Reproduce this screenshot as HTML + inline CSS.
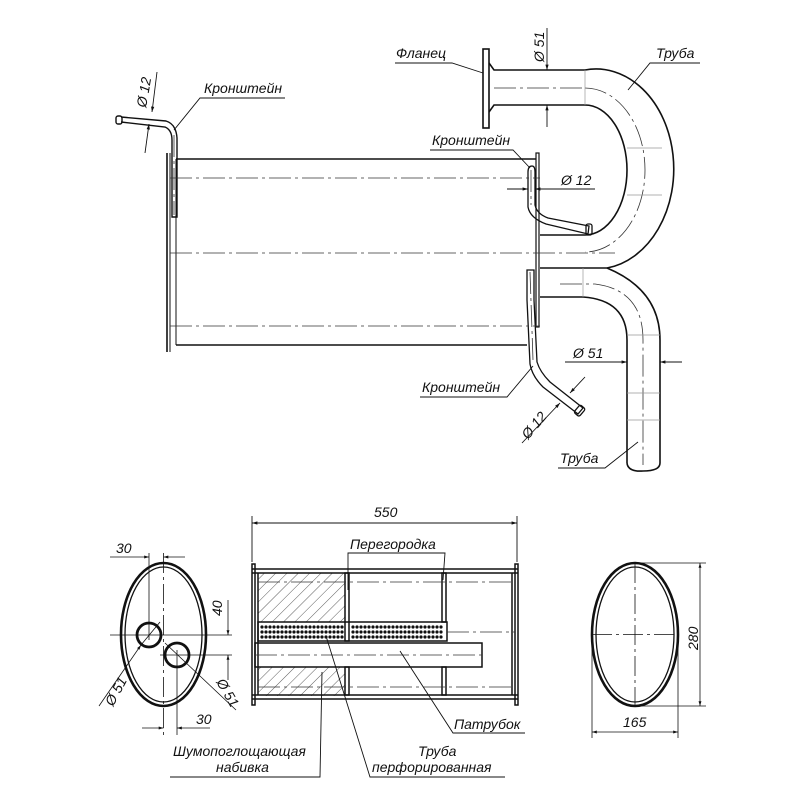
<!DOCTYPE html>
<html><head><meta charset="utf-8"><style>
html,body{margin:0;padding:0;background:#fff}
svg{display:block}
text{font-family:"Liberation Sans",sans-serif;font-style:italic;font-size:14px;fill:#111}
</style></head><body>
<svg width="800" height="800" viewBox="0 0 800 800" xmlns="http://www.w3.org/2000/svg">
<defs>
<marker id="a" viewBox="0 0 10 10" refX="10" refY="5" markerWidth="8" markerHeight="6" orient="auto-start-reverse"><path d="M0,2 L10,5 L0,8 z" fill="#111"/></marker>
<pattern id="h" width="8" height="8" patternUnits="userSpaceOnUse" patternTransform="rotate(45)"><line x1="0" y1="0" x2="0" y2="8" stroke="#333" stroke-width="0.8"/></pattern>
</defs>
<g fill="none" stroke="#111" stroke-width="1.6">
<line x1="176" y1="159" x2="536" y2="159"/>
<line x1="176" y1="345" x2="527" y2="345"/>
<line x1="167" y1="153" x2="167" y2="352"/>
<line x1="170" y1="153" x2="170" y2="352" stroke-width="1"/>
<line x1="176" y1="159" x2="176" y2="345" stroke-width="1"/>
<rect x="536" y="153" width="3" height="174" stroke-width="1.2"/>
<path d="M121,122 L165,127 Q172,130 172,140 L172,217 L177,217 L177,138 Q176,124 166,121 L121,117" stroke-width="1.4"/>
<rect x="116" y="116" width="6" height="8" rx="2" stroke-width="1.4"/>
<rect x="483" y="49" width="6" height="79"/>
<path d="M489,63 L494,70 L585,70 A77,99 0 0 1 607,268"/>
<path d="M489,112 L494,105 L585,105 A42,65 0 0 1 585,235 L540,235"/>
<line x1="540" y1="268" x2="607" y2="268"/>
<path d="M607,268 Q660,290 660,340 L660,463"/>
<path d="M540,297 L583,297 Q627,300 627,340 L627,463"/>
<path d="M627,463 Q628,472 643,471 Q660,471 660,463"/>
<path d="M528,172 Q528,166 532,166 Q535,166 535,172 L535,205 Q537,214 548,218 L589,226 L588,234 L546,224 Q530,218 528,207 Z" stroke-width="1.3"/>
<rect x="586" y="224" width="6" height="11" rx="2" stroke-width="1.3"/>
<path d="M527,270 L534,270 L534,300 L537,362 Q540,372 550,382 L583,408 L578,414 L543,387 Q532,376 530,364 L527,300 Z" stroke-width="1.3"/>
<rect x="576" y="406" width="7" height="10" rx="2" transform="rotate(40 580 411)" stroke-width="1.3"/>
</g>
<g fill="none" stroke="#333" stroke-width="0.8" stroke-dasharray="22,4,3,4">
<line x1="170" y1="178" x2="540" y2="178"/>
<line x1="170" y1="253" x2="615" y2="253"/>
<line x1="170" y1="326" x2="540" y2="326"/>
<line x1="494" y1="88" x2="585" y2="88"/>
<path d="M585,88 A60,82 0 0 1 585,252"/>
<path d="M560,284 L595,284 Q643,290 643,340 L643,465"/>
<line x1="174" y1="135" x2="174" y2="215"/>
<line x1="531" y1="170" x2="531" y2="205"/>
<line x1="530" y1="272" x2="533" y2="360"/>
</g>
<g fill="none" stroke="#999" stroke-width="0.7">
<line x1="585" y1="70" x2="585" y2="105"/><line x1="627" y1="148" x2="662" y2="148"/><line x1="627" y1="195" x2="662" y2="195"/>
<line x1="583" y1="268" x2="583" y2="297"/><line x1="627" y1="335" x2="660" y2="335"/><line x1="627" y1="393" x2="660" y2="393"/><line x1="627" y1="420" x2="660" y2="420"/>
</g>
<g fill="none" stroke="#111" stroke-width="0.9">
<line x1="547" y1="28" x2="547" y2="70" marker-end="url(#a)"/>
<line x1="547" y1="127" x2="547" y2="105" marker-end="url(#a)"/>
<line x1="507" y1="189" x2="528" y2="189" marker-end="url(#a)"/>
<line x1="595" y1="189" x2="535" y2="189" marker-end="url(#a)"/>
<line x1="565" y1="362" x2="627" y2="362" marker-end="url(#a)"/>
<line x1="682" y1="362" x2="660" y2="362" marker-end="url(#a)"/>
<line x1="157" y1="72" x2="152" y2="112" marker-end="url(#a)"/>
<line x1="145" y1="153" x2="149" y2="124" marker-end="url(#a)"/>
<line x1="522" y1="443" x2="560" y2="403" marker-end="url(#a)"/>
<line x1="585" y1="377" x2="570" y2="393" marker-end="url(#a)"/>
<polyline points="395,63 452,63 483,73"/>
<polyline points="700,63 650,63 628,90"/>
<polyline points="285,98 200,98 174,130"/>
<polyline points="430,150 513,150 530,168"/>
<polyline points="420,397 507,397 533,366"/>
<polyline points="558,468 605,468 638,442"/>
</g>
<g>
<text x="396" y="58">Фланец</text>
<text x="656" y="58">Труба</text>
<text x="204" y="93">Кронштейн</text>
<text x="432" y="145">Кронштейн</text>
<text x="422" y="392">Кронштейн</text>
<text x="560" y="463">Труба</text>
<text x="561" y="185">Ø 12</text>
<text x="573" y="358">Ø 51</text>
<text transform="translate(544,62) rotate(-90)">Ø 51</text>
<text transform="translate(146,108) rotate(-80)">Ø 12</text>
<text transform="translate(528,440) rotate(-50)">Ø 12</text>
</g>

<g fill="none" stroke="#111">
<ellipse cx="163.5" cy="634.5" rx="42.5" ry="71.5" stroke-width="2.6"/>
<ellipse cx="163.5" cy="634.5" rx="38.5" ry="67.5" stroke-width="1.3"/>
<circle cx="149" cy="635" r="12" stroke-width="2.8"/>
<circle cx="177" cy="655" r="12" stroke-width="2.8"/>
<g stroke-width="0.8">
<line x1="149" y1="553" x2="149" y2="640"/>
<line x1="163.5" y1="553" x2="163.5" y2="735" stroke-dasharray="20,4,3,4"/>
<line x1="177" y1="650" x2="177" y2="735"/>
<line x1="110" y1="635" x2="232" y2="635"/>
<line x1="160" y1="655" x2="232" y2="655"/>
<line x1="110" y1="557" x2="149" y2="557" marker-end="url(#a)"/>
<line x1="185" y1="557" x2="163.5" y2="557" marker-end="url(#a)"/>
<line x1="142" y1="728" x2="163.5" y2="728" marker-end="url(#a)"/>
<line x1="210" y1="728" x2="177" y2="728" marker-end="url(#a)"/>
<line x1="228" y1="600" x2="228" y2="635" marker-end="url(#a)"/>
<line x1="228" y1="680" x2="228" y2="655" marker-end="url(#a)"/>
<line x1="99" y1="706" x2="141" y2="645" marker-end="url(#a)"/>
<line x1="160" y1="622" x2="141" y2="645"/>
<line x1="165" y1="643" x2="236" y2="710"/>
</g>
</g>
<text x="116" y="553">30</text>
<text x="196" y="724">30</text>
<text transform="translate(222,616) rotate(-90)">40</text>
<text transform="translate(113,707) rotate(-62)">Ø 51</text>
<text transform="translate(216,682) rotate(60)">Ø 51</text>

<g fill="none" stroke="#111">
<rect x="258" y="573" width="87" height="49" fill="url(#h)" stroke="none"/>
<rect x="258" y="667" width="87" height="29" fill="url(#h)" stroke="none"/>
<g stroke-width="1.5">
<line x1="252" y1="569" x2="518" y2="569"/><line x1="252" y1="573" x2="518" y2="573"/>
<line x1="252" y1="695" x2="518" y2="695"/><line x1="252" y1="699" x2="518" y2="699"/>
<rect x="252" y="564" width="3" height="141"/>
<rect x="515" y="564" width="3" height="141"/>
<line x1="258" y1="573" x2="258" y2="695"/>
<line x1="512" y1="573" x2="512" y2="695"/>
<rect x="345" y="573" width="4" height="68"/>
<rect x="345" y="667" width="4" height="28"/>
<rect x="442" y="573" width="4" height="49"/>
<rect x="442" y="667" width="4" height="28"/>
<rect x="258" y="622" width="189" height="19"/>
<rect x="255" y="643" width="227" height="24"/>
</g>
</g>
<g fill="#111">
<g id="dr">
<circle cx="262" cy="627" r="1.6"/><circle cx="266" cy="627" r="1.6"/><circle cx="270" cy="627" r="1.6"/><circle cx="274" cy="627" r="1.6"/><circle cx="278" cy="627" r="1.6"/><circle cx="282" cy="627" r="1.6"/><circle cx="286" cy="627" r="1.6"/><circle cx="290" cy="627" r="1.6"/><circle cx="294" cy="627" r="1.6"/><circle cx="298" cy="627" r="1.6"/><circle cx="302" cy="627" r="1.6"/><circle cx="306" cy="627" r="1.6"/><circle cx="310" cy="627" r="1.6"/><circle cx="314" cy="627" r="1.6"/><circle cx="318" cy="627" r="1.6"/><circle cx="322" cy="627" r="1.6"/><circle cx="326" cy="627" r="1.6"/><circle cx="330" cy="627" r="1.6"/><circle cx="334" cy="627" r="1.6"/><circle cx="338" cy="627" r="1.6"/><circle cx="342" cy="627" r="1.6"/>
<circle cx="353" cy="627" r="1.6"/><circle cx="357" cy="627" r="1.6"/><circle cx="361" cy="627" r="1.6"/><circle cx="365" cy="627" r="1.6"/><circle cx="369" cy="627" r="1.6"/><circle cx="373" cy="627" r="1.6"/><circle cx="377" cy="627" r="1.6"/><circle cx="381" cy="627" r="1.6"/><circle cx="385" cy="627" r="1.6"/><circle cx="389" cy="627" r="1.6"/><circle cx="393" cy="627" r="1.6"/><circle cx="397" cy="627" r="1.6"/><circle cx="401" cy="627" r="1.6"/><circle cx="405" cy="627" r="1.6"/><circle cx="409" cy="627" r="1.6"/><circle cx="413" cy="627" r="1.6"/><circle cx="417" cy="627" r="1.6"/><circle cx="421" cy="627" r="1.6"/><circle cx="425" cy="627" r="1.6"/><circle cx="429" cy="627" r="1.6"/><circle cx="433" cy="627" r="1.6"/><circle cx="437" cy="627" r="1.6"/><circle cx="441" cy="627" r="1.6"/>
</g>
<use href="#dr" y="5"/><use href="#dr" y="10"/>
</g>
<g fill="none" stroke="#333" stroke-width="0.8" stroke-dasharray="22,4,3,4">
<line x1="258" y1="582" x2="512" y2="582"/>
<line x1="447" y1="632" x2="515" y2="632"/>
<line x1="255" y1="655" x2="482" y2="655"/>
<line x1="258" y1="687" x2="512" y2="687"/>
</g>
<g fill="none" stroke="#111" stroke-width="0.9">
<line x1="252" y1="516" x2="252" y2="562"/><line x1="517" y1="516" x2="517" y2="562"/>
<line x1="385" y1="523" x2="252" y2="523" marker-end="url(#a)"/>
<line x1="385" y1="523" x2="517" y2="523" marker-end="url(#a)"/>
<polyline points="348,590 348,553 445,553 443,580"/>
<polyline points="400,651 453,733 525,733"/>
<polyline points="322,672 320,777 170,777"/>
<polyline points="326,636 370,777 505,777"/>
</g>
<text x="374" y="517">550</text>
<text x="350" y="549">Перегородка</text>
<text x="454" y="729">Патрубок</text>
<text x="173" y="756">Шумопоглощающая</text>
<text x="216" y="772">набивка</text>
<text x="418" y="756">Труба</text>
<text x="372" y="772">перфорированная</text>

<g fill="none" stroke="#111">
<ellipse cx="635" cy="634.5" rx="43" ry="71.5" stroke-width="2.6"/>
<ellipse cx="635" cy="634.5" rx="39" ry="67.5" stroke-width="1.3"/>
<g stroke-width="0.8">
<line x1="635" y1="563" x2="635" y2="706" stroke-dasharray="20,4,3,4"/>
<line x1="592" y1="634.5" x2="678" y2="634.5" stroke-dasharray="20,4,3,4"/>
<line x1="635" y1="563" x2="706" y2="563"/>
<line x1="635" y1="706" x2="706" y2="706"/>
<line x1="592" y1="634" x2="592" y2="738"/>
<line x1="678" y1="634" x2="678" y2="738"/>
<line x1="700" y1="635" x2="700" y2="563" marker-end="url(#a)"/>
<line x1="700" y1="635" x2="700" y2="706" marker-end="url(#a)"/>
<line x1="635" y1="732" x2="592" y2="732" marker-end="url(#a)"/>
<line x1="635" y1="732" x2="678" y2="732" marker-end="url(#a)"/>
</g>
</g>
<text transform="translate(698,650) rotate(-90)">280</text>
<text x="623" y="727">165</text>
</svg>
</body></html>
